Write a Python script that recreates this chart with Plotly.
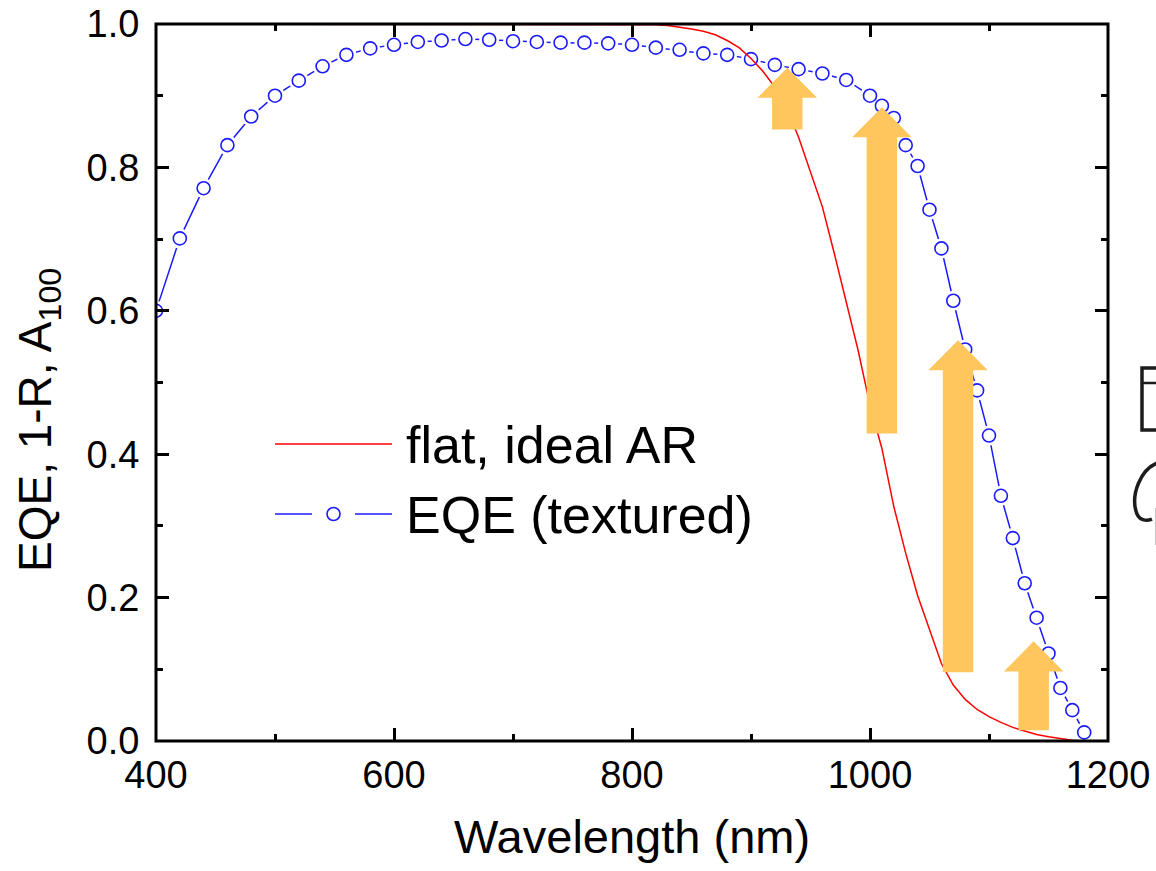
import plotly.graph_objects as go

# Textured cell: measured EQE (open circles)
eqe_wl = [400, 420, 440, 460, 480, 500, 520, 540, 560, 580, 600, 620, 640, 660, 680,
          700, 720, 740, 760, 780, 800, 820, 840, 860, 880, 900, 920, 940, 960, 980,
          1000, 1010, 1020, 1030, 1040, 1050, 1060, 1070, 1080, 1090, 1100, 1110,
          1120, 1130, 1140, 1150, 1160, 1170, 1180]
eqe_val = [0.600, 0.701, 0.771, 0.831, 0.871, 0.900, 0.921, 0.941, 0.957, 0.966,
           0.971, 0.975, 0.977, 0.979, 0.978, 0.976, 0.975, 0.974, 0.974, 0.973,
           0.971, 0.967, 0.964, 0.959, 0.957, 0.951, 0.943, 0.937, 0.931, 0.922,
           0.900, 0.886, 0.869, 0.831, 0.802, 0.741, 0.687, 0.614, 0.546, 0.489,
           0.426, 0.342, 0.283, 0.220, 0.172, 0.122, 0.074, 0.043, 0.012]

# Flat cell with an ideal antireflection coating: 1-R, A100
flat_wl = [400, 800, 810, 820, 830, 840, 850, 860, 870, 880, 890, 900, 910, 920, 930,
           940, 950, 960, 970, 980, 990, 1000, 1010, 1020, 1030, 1040, 1050, 1060,
           1070, 1080, 1090, 1100, 1110, 1120, 1130, 1140, 1150, 1160, 1170, 1180,
           1190, 1200]
flat_val = [1.000, 1.000, 1.000, 0.999, 0.998, 0.996, 0.993, 0.990, 0.985, 0.977,
            0.967, 0.952, 0.934, 0.912, 0.882, 0.842, 0.795, 0.745, 0.680, 0.612,
            0.545, 0.468, 0.408, 0.327, 0.262, 0.203, 0.155, 0.108, 0.078, 0.058,
            0.044, 0.034, 0.026, 0.019, 0.014, 0.009, 0.006, 0.003, 0.001, 0.000,
            0.000, 0.000]

# Gain from texturing: arrows from the flat curve up towards the EQE curve
arrow_wl = [930.5, 1010, 1074, 1137.5]
arrow_from = [0.853, 0.429, 0.096, 0.015]
arrow_to = [0.939, 0.884, 0.559, 0.139]

x_ticks = [400, 600, 800, 1000, 1200]
y_ticks = [0.0, 0.2, 0.4, 0.6, 0.8, 1.0]

W, H = 1156, 871
ML, MR, MT, MB = 156, 48, 24, 130
PW, PH = W - ML - MR, H - MT - MB

FONT = "Arial, 'Liberation Sans', sans-serif"
BLUE = "#1a1aff"
RED = "#ff0000"
ORANGE = "#fec65c"

# arrow geometry (style)
SHAFT_HALF = 12.8   # nm
HEAD_HALF = 25.0    # nm
HEAD_LEN = 0.042    # y units


def px(x):
    return (x - ML) / PW


def py(y):
    return (H - MB - y) / PH


fig = go.Figure()

# EQE line, then white rings to open small gaps round the symbols, then the symbols
fig.add_trace(go.Scatter(x=eqe_wl, y=eqe_val, mode="lines",
                         line=dict(color=BLUE, width=1.5), hoverinfo="skip"))
fig.add_trace(go.Scatter(x=eqe_wl, y=eqe_val, mode="markers",
                         marker=dict(size=20, color="white", line=dict(width=0)),
                         hoverinfo="skip"))
fig.add_trace(go.Scatter(x=eqe_wl, y=eqe_val, mode="markers",
                         marker=dict(size=13, color="white", symbol="circle",
                                     line=dict(color=BLUE, width=1.6)),
                         name="EQE (textured)"))

# flat, ideal AR
fig.add_trace(go.Scatter(x=flat_wl, y=flat_val, mode="lines",
                         line=dict(color=RED, width=1.5), name="flat, ideal AR"))

# arrows
for c, b, t in zip(arrow_wl, arrow_from, arrow_to):
    hb = t - HEAD_LEN
    xs = [c - SHAFT_HALF, c + SHAFT_HALF, c + SHAFT_HALF, c + HEAD_HALF, c,
          c - HEAD_HALF, c - SHAFT_HALF, c - SHAFT_HALF]
    ys = [b, b, hb, hb, t, hb, hb, b]
    fig.add_trace(go.Scatter(x=xs, y=ys, mode="lines", fill="toself",
                             fillcolor=ORANGE, line=dict(width=0, color=ORANGE),
                             hoverinfo="skip"))

axis_common = dict(
    showline=True, linewidth=1, linecolor="black", mirror="allticks",
    ticks="inside", ticklen=13, tickwidth=2.5, tickcolor="black",
    showgrid=False, zeroline=False,
    tickfont=dict(family=FONT, size=38, color="black"),
)

fig.update_xaxes(range=[400, 1200], tickvals=x_ticks,
                 minor=dict(ticks="inside", ticklen=7, tickwidth=2.5,
                            tickcolor="black", dtick=100, tick0=400, showgrid=False),
                 **axis_common)
fig.update_yaxes(range=[0, 1], tickvals=y_ticks, tickformat=".1f",
                 ticklabelstandoff=8,
                 minor=dict(ticks="inside", ticklen=7, tickwidth=2.5,
                            tickcolor="black", dtick=0.1, tick0=0, showgrid=False),
                 **axis_common)

shapes = []
# plot frame, centred on the plot edges and drawn over the curves
shapes.append(dict(type="rect", xref="paper", yref="paper", x0=0, x1=1, y0=0, y1=1,
                   line=dict(color="black", width=3), layer="above"))
# legend: red line
shapes.append(dict(type="line", xref="paper", yref="paper",
                   x0=px(275), x1=px(392), y0=py(444), y1=py(444),
                   line=dict(color=RED, width=1.5)))
# legend: blue line with gap round the symbol
shapes.append(dict(type="line", xref="paper", yref="paper",
                   x0=px(275), x1=px(312), y0=py(514), y1=py(514),
                   line=dict(color=BLUE, width=1.5)))
shapes.append(dict(type="line", xref="paper", yref="paper",
                   x0=px(355), x1=px(392), y0=py(514), y1=py(514),
                   line=dict(color=BLUE, width=1.5)))
r = 6.5
shapes.append(dict(type="circle", xref="paper", yref="paper",
                   x0=px(333.5 - r), x1=px(333.5 + r), y0=py(514 + r), y1=py(514 - r),
                   fillcolor="white", line=dict(color=BLUE, width=1.6)))


def path(points):
    return "M " + " L ".join(f"{px(x):.5f},{py(y):.5f}" for x, y in points)


# partial cell sketch at the right edge
ink = dict(color="#1c1c1c", width=3.5)
shapes.append(dict(type="path", xref="paper", yref="paper",
                   path=path([(1160, 368), (1142, 368), (1142, 430), (1160, 430)]),
                   line=ink))
shapes.append(dict(type="path", xref="paper", yref="paper",
                   path=path([(1142, 383), (1160, 383)]), line=dict(color="#1c1c1c", width=2.5)))
arc = (f"M {px(1160):.5f},{py(462):.5f} "
       f"C {px(1140):.5f},{py(468):.5f} {px(1130):.5f},{py(496):.5f} {px(1137):.5f},{py(514):.5f} "
       f"C {px(1140):.5f},{py(521):.5f} {px(1147):.5f},{py(521):.5f} {px(1152):.5f},{py(519):.5f}")
shapes.append(dict(type="path", xref="paper", yref="paper", path=arc, line=ink))
shapes.append(dict(type="line", xref="paper", yref="paper",
                   x0=px(1156), x1=px(1156), y0=py(508), y1=py(545),
                   line=dict(color="#b0b0b0", width=1.5)))

annotations = [
    dict(text="flat, ideal AR", xref="paper", yref="paper", x=px(404), y=py(445),
         xanchor="left", yanchor="middle", showarrow=False,
         font=dict(family=FONT, size=52, color="black")),
    dict(text="EQE (textured)", xref="paper", yref="paper", x=px(404), y=py(515),
         xanchor="left", yanchor="middle", showarrow=False,
         font=dict(family=FONT, size=52, color="black")),
    dict(text="Wavelength (nm)", xref="paper", yref="paper", x=px(632), y=py(836),
         xanchor="center", yanchor="middle", showarrow=False,
         font=dict(family=FONT, size=47, color="black")),
    dict(text="EQE, 1-R, A<sub>100</sub>", xref="paper", yref="paper", x=px(38), y=py(420),
         xanchor="center", yanchor="middle", textangle=-90, showarrow=False,
         font=dict(family=FONT, size=46, color="black")),
]

fig.update_layout(
    width=W, height=H,
    margin=dict(l=ML, r=MR, t=MT, b=MB, autoexpand=False),
    paper_bgcolor="white", plot_bgcolor="white",
    showlegend=False,
    shapes=shapes, annotations=annotations,
    font=dict(family=FONT, color="black"),
)

fig.write_html("out.html")
